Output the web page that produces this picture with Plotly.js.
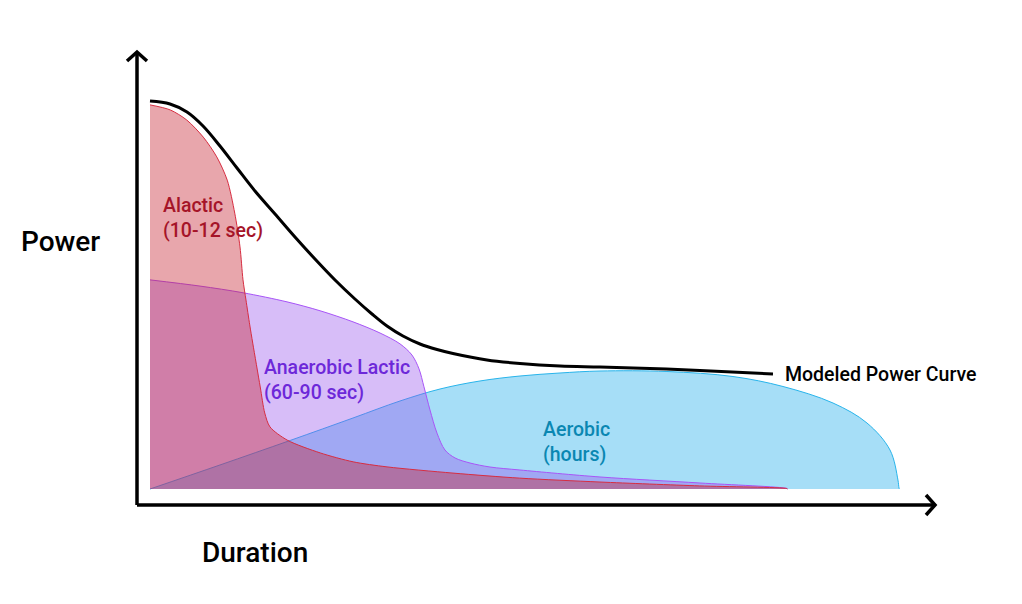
<!DOCTYPE html>
<html>
<head>
<meta charset="utf-8">
<script src="https://cdn.plot.ly/plotly-3.0.1.min.js"></script>
<style>html,body{margin:0;padding:0;background:#fff;}#chart{width:1022px;height:604px;}</style>
</head>
<body>
<div id="chart"></div>
<script>
// Modeled power curve (black)
const curveX = [0, 2.67, 4.93, 7.07, 9.33, 11.6, 14.0, 16.67, 19.33, 22.0, 24.67, 27.33, 29.6, 31.6, 33.73, 36.0, 38.27, 40.4, 44.93, 49.33, 54.67, 60, 66.67, 73.33, 83.07];
const curveY = [100, 99.23, 97.16, 93.56, 88.4, 82.73, 76.8, 70.88, 64.95, 59.28, 53.87, 48.97, 45.1, 42.0, 39.43, 37.37, 35.95, 34.92, 33.25, 32.35, 31.7, 31.44, 31.06, 30.54, 29.64];

// Alactic (10-12 sec)
const alacticX = [0, 2.7, 4.9, 7.1, 8.9, 10.3, 11.3, 12.0, 12.4, 12.8, 13.3, 13.7, 14.7, 15.3, 16.0, 18.3, 22.7, 27.1, 31.6, 40.4, 49.3, 60, 73.3, 84.9, 85];
const alacticY = [99, 97.7, 95.1, 90.7, 85.6, 79.6, 71.1, 62.4, 53.9, 48.7, 42.3, 37.6, 26.3, 19.6, 16.0, 12.6, 9.3, 7.0, 5.7, 4.1, 2.8, 1.8, 0.8, 0.13, 0];

// Anaerobic Lactic (60-90 sec)
const lacticX = [0, 6.67, 12.4, 18.27, 22.67, 27.07, 30.67, 33.33, 34.93, 35.87, 36.53, 37.33, 38.27, 39.33, 40.67, 42.67, 45.33, 49.33, 60, 73.33, 84.93, 85];
const lacticY = [53.9, 52.3, 50.58, 48.23, 45.94, 43.08, 40.2, 37.41, 34.53, 30.96, 26.34, 20.4, 14.4, 10.05, 8.0, 6.7, 5.67, 4.9, 3.1, 1.55, 0.13, 0];

// Aerobic (hours)
const aerobicX = [0, 9.33, 18.67, 27.07, 33.33, 38.67, 44.0, 49.33, 54.67, 60, 68.93, 77.73, 84.4, 91.07, 95.6, 98.67, 99.73, 99.87, 99.93];
const aerobicY = [0, 6.19, 12.5, 18.3, 22.68, 25.77, 27.84, 29.12, 29.9, 30.41, 30.28, 28.99, 26.42, 22.16, 17.01, 10.05, 2.32, 0.26, 0];

const labels = {
  alactic: 'Alactic<br>(10-12 sec)',
  lactic: 'Anaerobic Lactic<br>(60-90 sec)',
  aerobic: 'Aerobic<br>(hours)',
  curve: 'Modeled Power Curve',
  yTitle: 'Power',
  xTitle: 'Duration'
};

const FONT = 'Roboto, "Noto Sans", Arial, sans-serif';

const traces = [
  {x: aerobicX, y: aerobicY, type: 'scatter', mode: 'lines', fill: 'tozeroy',
   fillcolor: 'rgba(14,165,233,0.37)', line: {color: 'rgb(40,180,235)', width: 1, shape: 'spline', smoothing: 1}, hoverinfo: 'skip'},
  {x: lacticX, y: lacticY, type: 'scatter', mode: 'lines', fill: 'tozeroy',
   fillcolor: 'rgba(150,82,237,0.38)', line: {color: 'rgb(168,85,247)', width: 1, shape: 'spline', smoothing: 0.9}, hoverinfo: 'skip'},
  {x: alacticX, y: alacticY, type: 'scatter', mode: 'lines', fill: 'tozeroy',
   fillcolor: 'rgba(198,32,48,0.4)', line: {color: 'rgb(215,45,65)', width: 1, shape: 'spline', smoothing: 0.8}, hoverinfo: 'skip'},
  {x: curveX, y: curveY, type: 'scatter', mode: 'lines',
   line: {color: '#000', width: 3, shape: 'spline', smoothing: 1}, hoverinfo: 'skip'}
];

const axW = 798, axH = 453;
const wx = 10 / axW, wy = 9 / axH;
const hx = 9 / axW, hy = 10 / axH;

const layout = {
  width: 1022, height: 604,
  margin: {l: 137, r: 87, t: 52, b: 99},
  paper_bgcolor: '#fff', plot_bgcolor: '#fff',
  showlegend: false,
  xaxis: {range: [-1.733, 104.67], showgrid: false, zeroline: false, showticklabels: false, ticks: '', showline: false, fixedrange: true},
  yaxis: {range: [-4.124, 112.63], showgrid: false, zeroline: false, showticklabels: false, ticks: '', showline: false, fixedrange: true},
  shapes: [
    {type: 'line', xref: 'paper', yref: 'paper', x0: 0, y0: 0, x1: 1, y1: 0, line: {color: '#000', width: 3.5}},
    {type: 'line', xref: 'paper', yref: 'paper', x0: 0, y0: 0, x1: 0, y1: 1, line: {color: '#000', width: 3.5}},
    {type: 'path', xref: 'paper', yref: 'paper', path: `M ${-wx} ${1 - wy} L 0 1 L ${wx} ${1 - wy}`, line: {color: '#000', width: 3.5}},
    {type: 'path', xref: 'paper', yref: 'paper', path: `M ${1 - hx} ${hy} L 1 0 L ${1 - hx} ${-hy}`, line: {color: '#000', width: 3.5}}
  ],
  annotations: [
    {x: 1.5, y: 69.8, xref: 'x', yref: 'y', text: labels.alactic, showarrow: false, xanchor: 'left', yanchor: 'middle', align: 'left',
     font: {family: FONT, size: 19.5, color: 'rgb(165,20,40)', weight: 500}},
    {x: 14.95, y: 28.2, xref: 'x', yref: 'y', text: labels.lactic, showarrow: false, xanchor: 'left', yanchor: 'middle', align: 'left',
     font: {family: FONT, size: 19.5, color: 'rgb(109,40,217)', weight: 500}},
    {x: 52.1, y: 12.0, xref: 'x', yref: 'y', text: labels.aerobic, showarrow: false, xanchor: 'left', yanchor: 'middle', align: 'left',
     font: {family: FONT, size: 19.5, color: 'rgb(10,135,178)', weight: 500}},
    {x: 84.45, y: 29.4, xref: 'x', yref: 'y', text: labels.curve, showarrow: false, xanchor: 'left', yanchor: 'middle', align: 'left',
     font: {family: FONT, size: 19.5, color: '#000', weight: 500}},
    {x: (19 - 137) / axW, y: (505 - 241) / axH, xref: 'paper', yref: 'paper', text: labels.yTitle, showarrow: false, xanchor: 'left', yanchor: 'middle',
     font: {family: FONT, size: 28, color: '#000', weight: 500}},
    {x: (200 - 137) / axW, y: (505 - 552) / axH, xref: 'paper', yref: 'paper', text: labels.xTitle, showarrow: false, xanchor: 'left', yanchor: 'middle',
     font: {family: FONT, size: 28, color: '#000', weight: 500}}
  ]
};

Plotly.newPlot('chart', traces, layout, {displayModeBar: false, staticPlot: true});
</script>
</body>
</html>
